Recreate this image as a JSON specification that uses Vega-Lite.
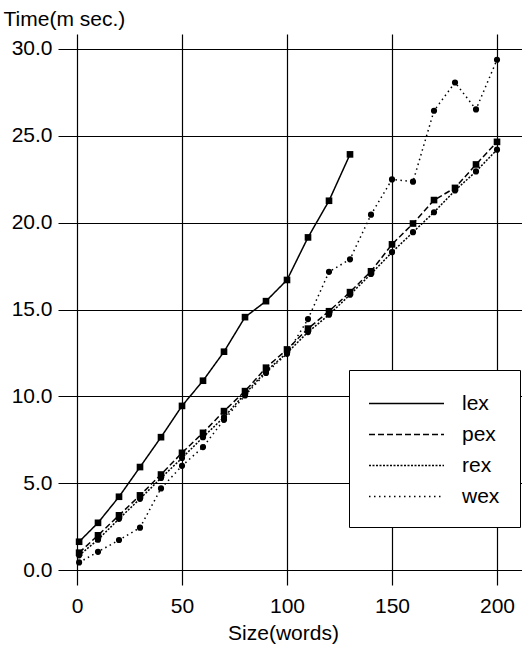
{
  "$schema": "https://vega.github.io/schema/vega-lite/v6.json",
  "width": 464,
  "height": 551,
  "autosize": "none",
  "padding": {"left": 58, "top": 34, "right": 0, "bottom": 60},
  "background": "white",
  "config": {
    "view": {"stroke": null},
    "font": "Liberation Sans",
    "axis": {"labelFont": "Liberation Sans", "titleFont": "Liberation Sans", "labelColor": "black", "titleColor": "black", "gridColor": "black", "gridOpacity": 1, "gridWidth": 1.2, "domain": false, "ticks": false, "labelFontSize": 21, "titleFontSize": 21, "titleFontWeight": "normal"}
  },
  "data": {
    "values": [
      {"series": "lex", "size": 1, "time": 1.63}, {"series": "lex", "size": 10, "time": 2.72}, {"series": "lex", "size": 20, "time": 4.22}, {"series": "lex", "size": 30, "time": 5.93}, {"series": "lex", "size": 40, "time": 7.65}, {"series": "lex", "size": 50, "time": 9.45}, {"series": "lex", "size": 60, "time": 10.9}, {"series": "lex", "size": 70, "time": 12.57}, {"series": "lex", "size": 80, "time": 14.56}, {"series": "lex", "size": 90, "time": 15.48}, {"series": "lex", "size": 100, "time": 16.7}, {"series": "lex", "size": 110, "time": 19.15}, {"series": "lex", "size": 120, "time": 21.26}, {"series": "lex", "size": 130, "time": 23.93},
      {"series": "pex", "size": 1, "time": 1.0}, {"series": "pex", "size": 10, "time": 2.0}, {"series": "pex", "size": 20, "time": 3.15}, {"series": "pex", "size": 30, "time": 4.3}, {"series": "pex", "size": 40, "time": 5.5}, {"series": "pex", "size": 50, "time": 6.75}, {"series": "pex", "size": 60, "time": 7.9}, {"series": "pex", "size": 70, "time": 9.15}, {"series": "pex", "size": 80, "time": 10.3}, {"series": "pex", "size": 90, "time": 11.65}, {"series": "pex", "size": 100, "time": 12.7}, {"series": "pex", "size": 110, "time": 13.9}, {"series": "pex", "size": 120, "time": 14.9}, {"series": "pex", "size": 130, "time": 16.0}, {"series": "pex", "size": 140, "time": 17.2}, {"series": "pex", "size": 150, "time": 18.75}, {"series": "pex", "size": 160, "time": 19.95}, {"series": "pex", "size": 170, "time": 21.3}, {"series": "pex", "size": 180, "time": 22.0}, {"series": "pex", "size": 190, "time": 23.35}, {"series": "pex", "size": 200, "time": 24.65},
      {"series": "rex", "size": 1, "time": 0.85}, {"series": "rex", "size": 10, "time": 1.75}, {"series": "rex", "size": 20, "time": 2.95}, {"series": "rex", "size": 30, "time": 4.1}, {"series": "rex", "size": 40, "time": 5.3}, {"series": "rex", "size": 50, "time": 6.45}, {"series": "rex", "size": 60, "time": 7.65}, {"series": "rex", "size": 70, "time": 8.8}, {"series": "rex", "size": 80, "time": 10.15}, {"series": "rex", "size": 90, "time": 11.45}, {"series": "rex", "size": 100, "time": 12.5}, {"series": "rex", "size": 110, "time": 13.7}, {"series": "rex", "size": 120, "time": 14.7}, {"series": "rex", "size": 130, "time": 15.85}, {"series": "rex", "size": 140, "time": 17.05}, {"series": "rex", "size": 150, "time": 18.3}, {"series": "rex", "size": 160, "time": 19.45}, {"series": "rex", "size": 170, "time": 20.6}, {"series": "rex", "size": 180, "time": 21.85}, {"series": "rex", "size": 190, "time": 22.95}, {"series": "rex", "size": 200, "time": 24.2},
      {"series": "wex", "size": 1, "time": 0.44}, {"series": "wex", "size": 10, "time": 1.05}, {"series": "wex", "size": 20, "time": 1.73}, {"series": "wex", "size": 30, "time": 2.44}, {"series": "wex", "size": 40, "time": 4.7}, {"series": "wex", "size": 50, "time": 6.0}, {"series": "wex", "size": 60, "time": 7.08}, {"series": "wex", "size": 70, "time": 8.65}, {"series": "wex", "size": 80, "time": 10.05}, {"series": "wex", "size": 90, "time": 11.35}, {"series": "wex", "size": 100, "time": 12.45}, {"series": "wex", "size": 110, "time": 14.45}, {"series": "wex", "size": 120, "time": 17.17}, {"series": "wex", "size": 130, "time": 17.89}, {"series": "wex", "size": 140, "time": 20.46}, {"series": "wex", "size": 150, "time": 22.49}, {"series": "wex", "size": 160, "time": 22.36}, {"series": "wex", "size": 170, "time": 26.44}, {"series": "wex", "size": 180, "time": 28.07}, {"series": "wex", "size": 190, "time": 26.52}, {"series": "wex", "size": 200, "time": 29.38}
    ]
  },
  "encoding": {
    "x": {
      "field": "size", "type": "quantitative",
      "scale": {"domain": [-9.05, 211.9], "nice": false, "zero": false},
      "axis": {"values": [0, 50, 100, 150, 200], "grid": true, "labelPadding": 10, "title": "Size(words)", "titleX": 225, "titleY": 54, "titleAlign": "center", "titleBaseline": "alphabetic"}
    },
    "y": {
      "field": "time", "type": "quantitative",
      "scale": {"domain": [-0.86, 30.86], "nice": false, "zero": false},
      "axis": {"values": [0, 5, 10, 15, 20, 25, 30], "format": ".1f", "grid": true, "labelPadding": 6, "title": "Time(m sec.)", "titleAngle": 0, "titleX": -55, "titleY": -9, "titleAlign": "left", "titleBaseline": "alphabetic"}
    }
  },
  "layer": [
    {
      "mark": {"type": "line", "color": "black", "strokeWidth": 1.5},
      "encoding": {
        "strokeDash": {
          "field": "series", "type": "nominal",
          "scale": {"domain": ["lex", "pex", "rex", "wex"], "range": [[1, 0], [6, 3], [2, 1.5], [1.5, 3.5]]},
          "legend": {"title": null, "orient": "none", "legendX": 291, "legendY": 336, "padding": 20, "strokeColor": "black", "fillColor": "white", "cornerRadius": 0, "symbolType": "M-3,0H3", "symbolSize": 625, "symbolOffset": 24, "symbolStrokeWidth": 1.5, "symbolStrokeColor": "black", "labelFont": "Liberation Sans", "labelFontSize": 21, "labelColor": "black", "labelOffset": 42, "rowPadding": 7}
        }
      }
    },
    {
      "transform": [{"filter": "datum.series == 'lex' || datum.series == 'pex'"}],
      "mark": {"type": "point", "shape": "square", "filled": true, "color": "black", "opacity": 1, "size": 44}
    },
    {
      "transform": [{"filter": "datum.series == 'rex' || datum.series == 'wex'"}],
      "mark": {"type": "point", "shape": "circle", "filled": true, "color": "black", "opacity": 1, "size": 38}
    }
  ]
}
